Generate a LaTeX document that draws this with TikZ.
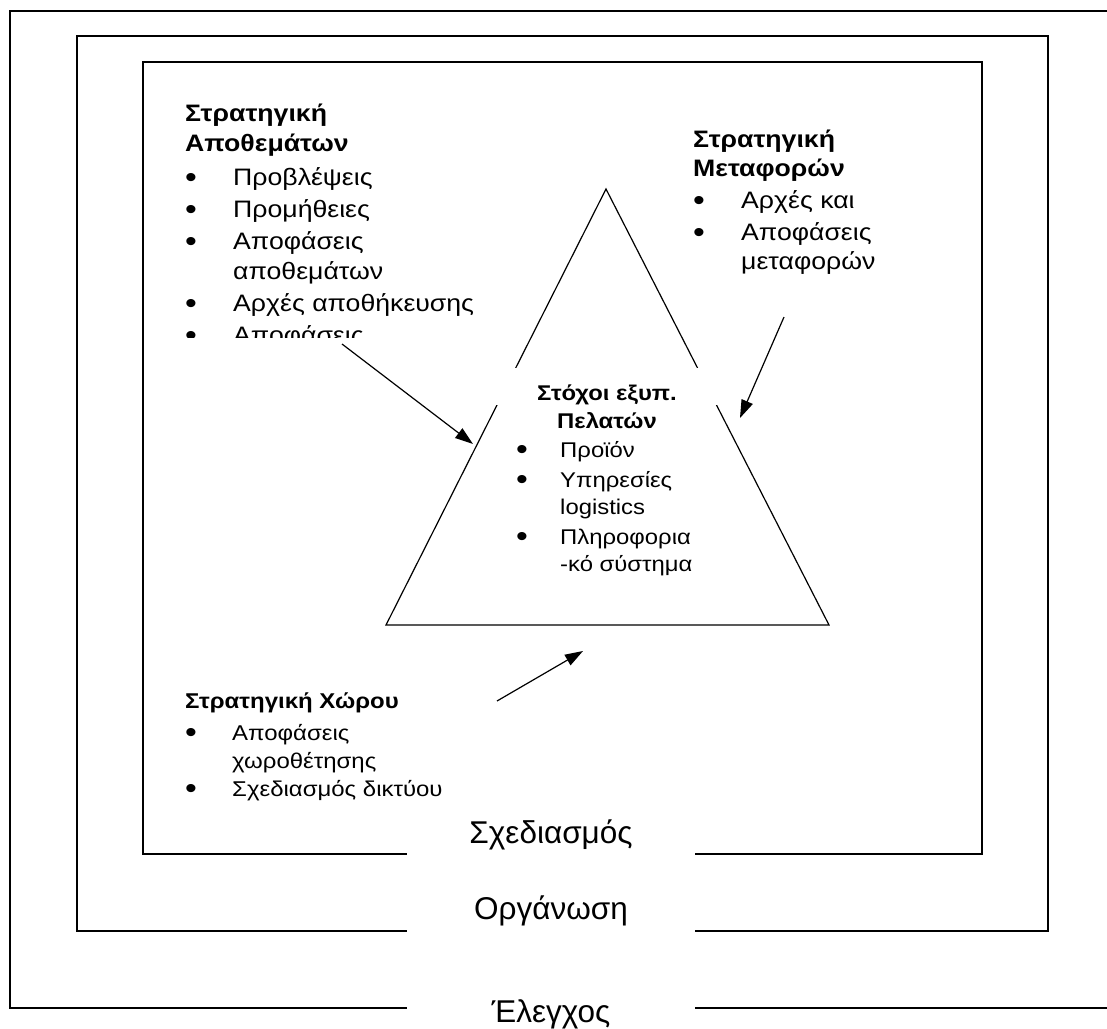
\documentclass[tikz,border=0pt]{standalone}
\usepackage{fontspec}
\setmainfont{Liberation Sans}
\newfontfamily\widefont[FakeStretch=1.12]{Liberation Sans}
\usetikzlibrary{arrows.meta}

% bullet and continuation of a list line
\newcommand{\blt}[2][48pt]{\makebox[#1][l]{\raisebox{-2pt}{\fontsize{30}{30}\selectfont\textbullet}}#2}
\newcommand{\cnt}[2][48pt]{\hspace*{#1}#2}

\tikzset{
  frame/.style={line width=1.6pt},
  tri/.style={line width=1.2pt},
  block/.style={anchor=base west, align=left, inner sep=0pt},
  gaplabel/.style={fill=white, inner xsep=0pt, inner ysep=0pt, minimum width=288pt,
                   text height=26pt, text depth=16pt, font=\fontsize{31.5}{34}\selectfont},
  togoals/.style={line width=1.2pt, -{Triangle[length=18pt,width=12pt]}},
}

\begin{document}
\begin{tikzpicture}[x=1pt,y=1pt,yscale=-1]
  \useasboundingbox (0,0) rectangle (1107,1028);
  \clip (0,0) rectangle (1107,1028);

  % Draw the three frames (outer one runs off the right side)
  \draw[frame] (1107,11) -- (10,11) -- (10,1008) -- (1107,1008);
  \draw[frame] (77,36) rectangle (1048,931);
  \draw[frame] (143,62) rectangle (982,854);

  % Labels on the bottom sides of the frames
  \draw (551,843) node (plan) [gaplabel, anchor=base] {Σχεδιασμός};
  \draw (551,919) node (orga) [gaplabel, anchor=base] {Οργάνωση};
  \draw (551,1022) node (ctrl) [gaplabel, anchor=base] {Έλεγχος};

  % The triangle
  \coordinate (apex) at (606,189);
  \coordinate (bl) at (386,625);
  \coordinate (br) at (829,625);
  \draw[tri] (apex) -- (bl) -- (br) -- cycle;

  % Customer service goals in the triangle (base = last line)
  \draw (607,400) node (goalhd) [anchor=base, fill=white, inner sep=0pt, minimum width=240pt,
        text height=32pt, text depth=5pt, font=\widefont\fontsize{21.3}{28}\selectfont\bfseries] {Στόχοι εξυπ.};
  \draw (607,428) node (goalhd2) [anchor=base, inner sep=0pt, font=\widefont\fontsize{21.3}{28}\selectfont\bfseries] {Πελατών};
  \draw (516,571) node (goals) [block, font=\widefont\fontsize{21.3}{26.5}\selectfont] {%
    \blt[44pt]{Προϊόν}\\[4pt] \blt[44pt]{Υπηρεσίες}\\ \cnt[44pt]{logistics}\\[4pt]
    \blt[44pt]{Πληροφορια}\\ \cnt[44pt]{-κό σύστημα}};

  % Inventory strategy (cut off at the bottom)
  \begin{scope}
    \clip (150,90) rectangle (520,337);
    \draw (185,343) node (invent) [block, font=\widefont\fontsize{23.8}{30}\selectfont] {%
      \textbf{Στρατηγική}\\ \textbf{Αποθεμάτων}\\[4pt] \blt{Προβλέψεις}\\[2pt] \blt{Προμήθειες}\\[2pt]
      \blt{Αποφάσεις}\\ \cnt{αποθεμάτων}\\[2pt] \blt{Αρχές αποθήκευσης}\\[2pt] \blt{Αποφάσεις}};
  \end{scope}

  % Transport strategy
  \draw (693,269) node (transp) [block, font=\widefont\fontsize{23.8}{29}\selectfont] {%
    \textbf{Στρατηγική}\\ \textbf{Μεταφορών}\\[3pt] \blt{Αρχές και}\\[3pt] \blt{Αποφάσεις}\\ \cnt{μεταφορών}};

  % Location strategy
  \draw (185,796) node (locat) [block, font=\widefont\fontsize{21.4}{28}\selectfont] {%
    \textbf{Στρατηγική Χώρου}\\[4pt] \blt[47pt]{Αποφάσεις}\\ \cnt[47pt]{χωροθέτησης}\\ \blt[47pt]{Σχεδιασμός δικτύου}};

  % Arrows towards the triangle
  \coordinate (invout) at (342,344);
  \coordinate (invin) at (473,444);
  \coordinate (trout) at (784,317);
  \coordinate (trin) at (740,418);
  \coordinate (locout) at (497,701);
  \coordinate (locin) at (583,651);
  \draw[togoals] (invout) -- (invin);
  \draw[togoals] (trout) -- (trin);
  \draw[togoals] (locout) -- (locin);
\end{tikzpicture}
\end{document}
